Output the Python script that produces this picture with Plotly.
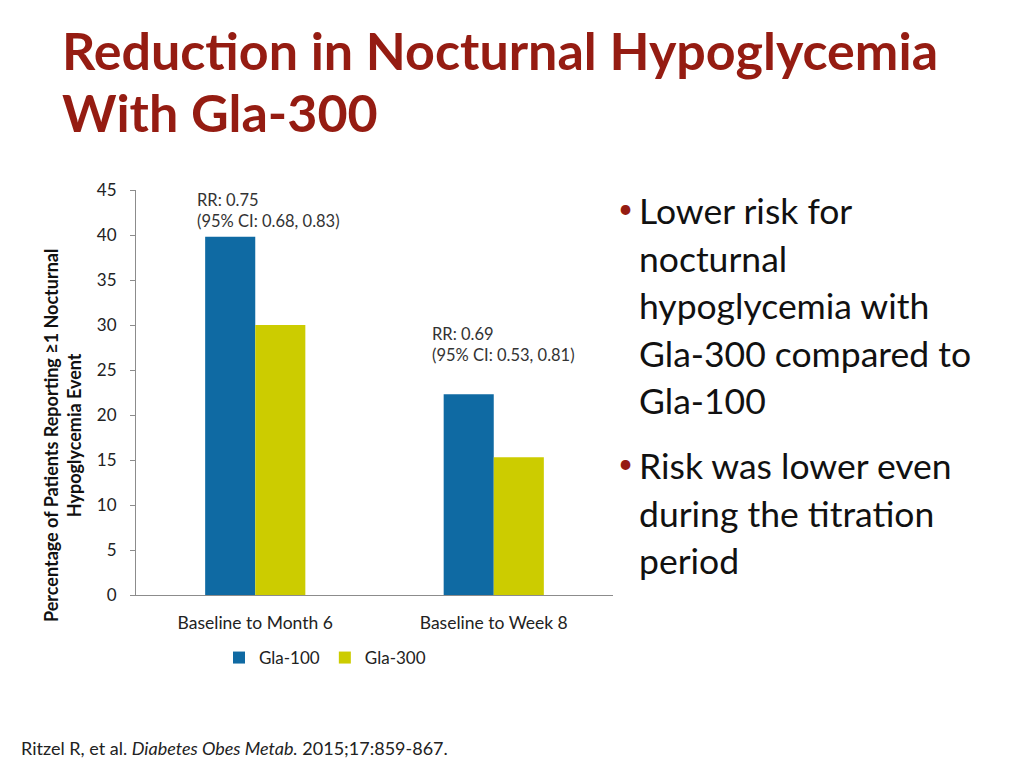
import plotly.graph_objects as go

categories = ["Baseline to Month 6", "Baseline to Week 8"]
gla100 = [39.8, 22.3]
gla300 = [30.0, 15.3]
rr_labels = ["RR: 0.75<br>(95% CI: 0.68, 0.83)", "RR: 0.69<br>(95% CI: 0.53, 0.81)"]
y_ticks = [0, 5, 10, 15, 20, 25, 30, 35, 40, 45]
y_title = "<b>Percentage of Patients Reporting ≥1 Nocturnal<br>Hypoglycemia Event</b>"
title_lines = ["Reduction in Nocturnal Hypoglycemia", "With Gla-300"]
bullets = [
    ["Lower risk for", "nocturnal", "hypoglycemia with", "Gla-300 compared to", "Gla-100"],
    ["Risk was lower even", "during the titration", "period"],
]
citation = "Ritzel R, et al. <i>Diabetes Obes Metab.</i> 2015;17:859-867."

BLUE = "#0F6AA3"
YELLOW = "#CCCC00"
RED = "#951C12"
FONT = "Lato, 'Open Sans', sans-serif"

L, R, T, B = 136, 411, 190, 173
PW, PH = 1024 - L - R, 768 - T - B


def px_x(x):
    return (x - L) / PW


def px_y(y):
    return (768 - B - y) / PH


fig = go.Figure()
fig.add_trace(go.Bar(name="Gla-100", x=categories, y=gla100, marker_color=BLUE, marker_line_width=0))
fig.add_trace(go.Bar(name="Gla-300", x=categories, y=gla300, marker_color=YELLOW, marker_line_width=0))

# RR annotations above each group
shifts = [(-60, 4), (-64, 27)]
for i, cat in enumerate(categories):
    fig.add_annotation(x=cat, y=gla100[i], xref="x", yref="y", text=rr_labels[i],
                       showarrow=False, xanchor="left", yanchor="bottom", align="left",
                       xshift=shifts[i][0], yshift=shifts[i][1],
                       font=dict(family=FONT, size=16.5, color="#333333"))

# Y-axis title (placed as rotated text, lower than the axis centre like the original)
fig.add_annotation(xref="paper", yref="paper", x=px_x(62), y=px_y(436),
                   xanchor="center", yanchor="middle", text=y_title, textangle=-90,
                   showarrow=False, font=dict(family=FONT, size=18, color="#111111"))

# Title
for y_c, line in zip([50, 112], title_lines):
    fig.add_annotation(xref="paper", yref="paper", x=px_x(60), y=px_y(y_c),
                       xanchor="left", yanchor="middle", text="<b>" + line + "</b>",
                       showarrow=False, font=dict(family=FONT, size=52, color=RED))

# Bullets
line_centers = [[210, 258, 305, 353, 400], [465, 513, 560]]
for b, ys in zip(bullets, line_centers):
    for j, (line, y_c) in enumerate(zip(b, ys)):
        if j == 0:
            fig.add_annotation(xref="paper", yref="paper", x=px_x(616), y=px_y(y_c - 2),
                               xanchor="left", yanchor="middle", text="•", showarrow=False,
                               font=dict(family=FONT, size=26, color=RED))
        fig.add_annotation(xref="paper", yref="paper", x=px_x(637), y=px_y(y_c),
                           xanchor="left", yanchor="middle", text=line, showarrow=False,
                           font=dict(family=FONT, size=35.5, color="#111111"))

# Citation
fig.add_annotation(xref="paper", yref="paper", x=px_x(19), y=px_y(748),
                   xanchor="left", yanchor="middle", showarrow=False, text=citation,
                   font=dict(family=FONT, size=18, color="#222222"))

fig.update_layout(
    width=1024, height=768,
    margin=dict(l=L, r=R, t=T, b=B),
    paper_bgcolor="white", plot_bgcolor="white",
    barmode="group", bargap=0.58, bargroupgap=0,
    font=dict(family=FONT, color="#333333"),
    showlegend=True,
    legend=dict(orientation="h", x=px_x(325), xanchor="center", y=px_y(658),
                yanchor="middle", font=dict(family=FONT, size=17, color="#222222"),
                itemwidth=30, traceorder="normal", tracegroupgap=0),
    xaxis=dict(showline=True, linecolor="#8C8C8C", linewidth=1, ticks="",
               ticklabelstandoff=12,
               tickfont=dict(family=FONT, size=17.5, color="#222222"), showgrid=False),
    yaxis=dict(range=[0, 45], tickvals=y_ticks, showline=True, linecolor="#8C8C8C", linewidth=1,
               ticks="outside", ticklen=5, tickcolor="#8C8C8C", showgrid=False, zeroline=False,
               ticklabelstandoff=10,
               tickfont=dict(family=FONT, size=17, color="#222222")),
)

fig.write_html("out.html", config={"displayModeBar": False},
               post_script="document.body.style.margin='0';document.body.style.overflow='hidden';")
